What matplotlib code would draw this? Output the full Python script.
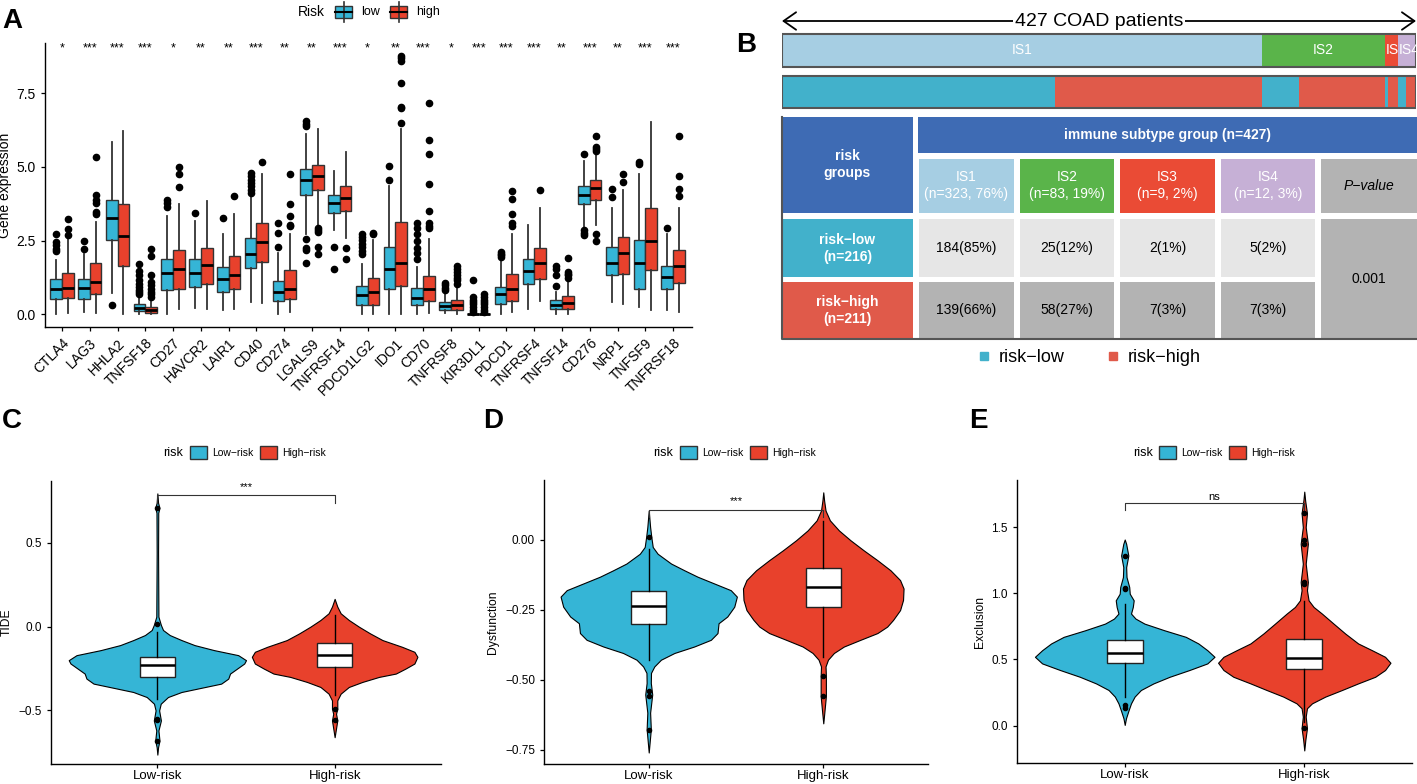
import numpy as np
import matplotlib.pyplot as plt
from matplotlib.patches import Rectangle, Patch
from matplotlib.lines import Line2D

plt.rcParams['font.family'] = ['Liberation Sans', 'DejaVu Sans']

# ---------------- panel A: immune checkpoint genes ----------------
genes = ['CTLA4', 'LAG3', 'HHLA2', 'TNFSF18', 'CD27', 'HAVCR2', 'LAIR1', 'CD40',
         'CD274', 'LGALS9', 'TNFRSF14', 'PDCD1LG2', 'IDO1', 'CD70', 'TNFRSF8',
         'KIR3DL1', 'PDCD1', 'TNFRSF4', 'TNFSF14', 'CD276', 'NRP1', 'TNFSF9', 'TNFRSF18']
signif = ['*', '***', '***', '***', '*', '**', '**', '***', '**', '**', '***', '*',
          '**', '***', '*', '***', '***', '***', '**', '***', '**', '***', '***']

low_q1 = [0.53, 0.53, 2.53, 0.10, 0.84, 0.93, 0.76, 1.58, 0.44, 4.04, 3.42, 0.33,
          0.86, 0.33, 0.16, 0.0, 0.34, 1.02, 0.19, 3.73, 1.35, 0.87, 0.87]
low_med = [0.85, 0.89, 3.27, 0.23, 1.41, 1.40, 1.19, 2.06, 0.76, 4.55, 3.76, 0.64,
           1.52, 0.57, 0.27, 0.0, 0.68, 1.46, 0.31, 4.06, 1.74, 1.75, 1.27]
low_q3 = [1.20, 1.20, 3.89, 0.34, 1.89, 1.89, 1.61, 2.60, 1.13, 4.94, 4.04, 0.96,
          2.29, 0.89, 0.42, 0.02, 0.93, 1.87, 0.48, 4.36, 2.29, 2.53, 1.64]
low_wlo = [0.02, 0.08, 0.72, 0.0, 0.0, 0.23, 0.16, 0.42, 0.0, 2.74, 2.85, 0.0,
           0.02, 0.0, 0.05, 0.0, 0.0, 0.19, 0.02, 2.87, 0.42, 0.25, 0.16]
low_whi = [1.83, 2.06, 5.85, 0.59, 3.33, 3.17, 2.71, 4.07, 2.09, 6.13, 4.85, 1.72,
           4.34, 1.61, 0.70, 0.03, 1.83, 3.02, 0.76, 5.20, 3.59, 4.77, 2.74]
low_out = [[2.74, 2.45, 2.34, 2.23, 2.15], [2.48, 2.23], [0.33],
           [1.70, 1.46, 1.32, 1.15, 1.04, 0.93, 0.84, 0.76, 0.68], [3.89, 3.76, 3.64],
           [3.42], [3.25], [4.80, 4.68, 4.55, 4.46, 4.34, 4.23, 4.12], [3.08, 2.76, 2.29],
           [6.55, 6.47, 6.38, 2.57, 2.26, 2.17, 1.74], [2.28, 1.53],
           [2.74, 2.62, 2.53, 2.40, 2.28, 2.15, 2.06], [5.02, 4.57],
           [3.08, 2.94, 2.71, 2.49, 2.26, 2.09, 1.87], [1.06, 0.98, 0.90, 0.81],
           [1.15, 0.59, 0.50, 0.42, 0.34, 0.25, 0.16, 0.08], [2.12, 2.06, 2.00, 1.95],
           [], [1.64, 1.55, 1.32, 0.96], [5.43, 2.85, 2.76, 2.68], [4.24, 3.98],
           [5.17, 5.09], [2.94]]

high_q1 = [0.55, 0.68, 1.64, 0.05, 0.87, 1.04, 0.85, 1.76, 0.51, 4.23, 3.50, 0.31,
           0.96, 0.45, 0.16, 0.0, 0.44, 1.20, 0.19, 3.89, 1.38, 1.49, 1.06]
high_med = [0.88, 1.09, 2.66, 0.14, 1.52, 1.66, 1.35, 2.44, 0.86, 4.68, 3.96, 0.76,
            1.74, 0.86, 0.33, 0.0, 0.86, 1.74, 0.40, 4.29, 2.08, 2.48, 1.64]
high_q3 = [1.40, 1.75, 3.74, 0.25, 2.17, 2.26, 1.97, 3.10, 1.49, 5.08, 4.34, 1.23,
           3.13, 1.29, 0.50, 0.02, 1.38, 2.26, 0.62, 4.57, 2.62, 3.59, 2.17]
high_wlo = [0.05, 0.05, 0.0, 0.0, 0.19, 0.19, 0.18, 0.38, 0.08, 2.96, 2.60, 0.0,
            0.0, 0.05, 0.02, 0.0, 0.08, 0.45, 0.0, 3.02, 0.36, 0.16, 0.08]
high_whi = [2.62, 3.13, 6.22, 0.53, 3.73, 3.83, 3.39, 4.75, 2.74, 6.30, 5.49, 2.51,
            6.30, 2.57, 0.93, 0.03, 2.74, 3.59, 1.10, 5.48, 4.21, 6.53, 3.62]
high_out = [[3.22, 2.88, 2.68], [5.34, 4.06, 3.89, 3.79, 3.47, 3.39], [],
            [2.23, 1.97, 1.32, 1.10, 0.98, 0.87, 0.76, 0.68, 0.59], [4.98, 4.75, 4.32],
            [], [4.02], [5.17], [4.75, 3.73, 3.34, 3.04, 2.98],
            [2.93, 2.85, 2.79, 2.28, 2.04], [2.26, 1.89], [2.76, 2.71],
            [8.76, 8.68, 8.60, 7.85, 7.04, 6.98, 6.49],
            [7.17, 5.90, 5.43, 4.43, 3.51, 3.10, 2.99, 2.91],
            [1.64, 1.55, 1.44, 1.32, 1.24, 1.15, 1.04],
            [0.68, 0.59, 0.50, 0.42, 0.34, 0.25, 0.16, 0.08],
            [4.17, 3.90, 3.39, 3.08, 2.99], [4.21], [1.91, 1.44, 1.38, 1.32, 1.24],
            [6.04, 5.68, 5.59, 5.53, 2.74, 2.49], [4.77, 4.49], [], [6.05, 4.69, 4.24, 4.00]]

# ---------------- panel B: immune subtypes ----------------
subtypes = ['IS1', 'IS2', 'IS3', 'IS4']
subtype_n = [323, 83, 9, 12]
subtype_pct = [76, 19, 2, 3]
low_n = [184, 25, 2, 5]
low_pct = [85, 12, 1, 2]
high_n = [139, 58, 7, 7]
high_pct = [66, 27, 3, 3]
risk_n = [216, 211]
p_value = '0.001'

# ---------------- panels C-E: TIDE, Dysfunction, Exclusion ----------------
groups = ['Low-risk', 'High-risk']

tide_low_y = [-0.764, -0.72, -0.68, -0.62, -0.56, -0.50, -0.46, -0.42, -0.39, -0.36, -0.34,
              -0.31, -0.28, -0.25, -0.22, -0.20, -0.17, -0.14, -0.11, -0.08, -0.05, -0.02,
              0.01, 0.06, 0.44, 0.68, 0.71, 0.74, 0.796]
tide_low_w = [0, 0.004, 0.012, 0.006, 0.02, 0.01, 0.019, 0.06, 0.136, 0.27, 0.36,
              0.40, 0.41, 0.45, 0.49, 0.50, 0.456, 0.32, 0.21, 0.136, 0.07, 0.032,
              0.02, 0.006, 0.004, 0.005, 0.012, 0.004, 0]
tide_high_y = [-0.66, -0.56, -0.52, -0.49, -0.44, -0.40, -0.36, -0.33, -0.30, -0.28, -0.25,
               -0.22, -0.18, -0.15, -0.12, -0.08, -0.04, 0.0, 0.04, 0.08, 0.12, 0.166]
tide_high_w = [0, 0.015, 0.008, 0.015, 0.015, 0.034, 0.08, 0.156, 0.25, 0.345, 0.40,
               0.45, 0.467, 0.45, 0.38, 0.27, 0.20, 0.137, 0.08, 0.034, 0.015, 0]
tide_box = [[-0.30, -0.23, -0.18, -0.43, -0.03], [-0.24, -0.17, -0.10, -0.41, 0.07]]
tide_out = [[0.71, 0.016, -0.55, -0.56, -0.684], [-0.49, -0.56]]

dys_low_y = [-0.759, -0.676, -0.617, -0.552, -0.511, -0.475, -0.452, -0.428, -0.404, -0.381,
             -0.357, -0.333, -0.298, -0.274, -0.239, -0.203, -0.180, -0.156, -0.132, -0.109,
             -0.085, -0.050, -0.026, 0.009, 0.045, 0.104]
dys_low_w = [0, 0.012, 0.008, 0.02, 0.012, 0.013, 0.032, 0.07, 0.147, 0.26, 0.356, 0.394,
             0.40, 0.45, 0.49, 0.505, 0.47, 0.375, 0.28, 0.204, 0.128, 0.051, 0.023, 0.015,
             0.008, 0]
dys_high_y = [-0.655, -0.617, -0.558, -0.487, -0.452, -0.428, -0.404, -0.381, -0.357, -0.333,
              -0.310, -0.286, -0.251, -0.215, -0.174, -0.144, -0.109, -0.073, -0.038, -0.002,
              0.033, 0.069, 0.104, 0.139, 0.169]
dys_high_w = [0, 0.006, 0.015, 0.015, 0.013, 0.027, 0.061, 0.118, 0.213, 0.31, 0.366, 0.40,
              0.44, 0.457, 0.46, 0.44, 0.385, 0.31, 0.232, 0.156, 0.09, 0.038, 0.013, 0.005, 0]
dys_box = [[-0.30, -0.235, -0.182, -0.428, -0.032], [-0.24, -0.17, -0.10, -0.42, 0.068]]
dys_out = [[0.009, -0.54, -0.556, -0.677], [-0.487, -0.558]]

exc_low_y = [0.005, 0.055, 0.118, 0.168, 0.219, 0.269, 0.319, 0.369, 0.420, 0.470, 0.520,
             0.570, 0.621, 0.671, 0.721, 0.771, 0.809, 0.847, 0.897, 0.947, 0.997, 1.048,
             1.123, 1.198, 1.286, 1.374, 1.407]
exc_low_w = [0, 0.007, 0.022, 0.035, 0.055, 0.09, 0.16, 0.25, 0.36, 0.46, 0.50, 0.46, 0.41,
             0.34, 0.22, 0.11, 0.06, 0.035, 0.045, 0.05, 0.028, 0.025, 0.01, 0.008, 0.02,
             0.008, 0]
exc_high_y = [-0.188, -0.108, -0.020, 0.068, 0.131, 0.168, 0.219, 0.269, 0.319, 0.369, 0.420,
              0.475, 0.520, 0.570, 0.621, 0.696, 0.771, 0.847, 0.897, 0.947, 1.023, 1.085,
              1.224, 1.374, 1.500, 1.606, 1.701, 1.769]
exc_high_w = [0, 0.006, 0.015, 0.008, 0.015, 0.043, 0.117, 0.21, 0.30, 0.395, 0.45, 0.48,
              0.45, 0.377, 0.30, 0.228, 0.163, 0.098, 0.052, 0.024, 0.015, 0.02, 0.008, 0.02,
              0.008, 0.015, 0.005, 0]
exc_box = [[0.47, 0.55, 0.646, 0.214, 0.917], [0.43, 0.508, 0.656, 0.03, 0.94]]
exc_out = [[1.281, 1.04, 1.03, 0.156, 0.131], [1.605, 1.40, 1.37, 1.085, 1.07, -0.02]]

BLUE = '#35b5d6'
RED = '#e8412c'
EDGE = '#333333'

W, H = 1417, 784
fig = plt.figure(figsize=(W / 100, H / 100), dpi=100)


def px_axes(l, t, r, b):
    return fig.add_axes([l / W, 1 - b / H, (r - l) / W, (b - t) / H])


def classic(ax):
    for s in ['top', 'right']:
        ax.spines[s].set_visible(False)
    for s in ['left', 'bottom']:
        ax.spines[s].set_linewidth(1.0)
    ax.tick_params(length=3, width=0.9, color='black')


# ---------------- A ----------------
axA = px_axes(45, 43, 692, 327)
pos = np.arange(1, len(genes) + 1)
low_stats = [dict(q1=a, med=b, q3=c, whislo=d, whishi=e, fliers=f) for a, b, c, d, e, f in
             zip(low_q1, low_med, low_q3, low_wlo, low_whi, low_out)]
high_stats = [dict(q1=a, med=b, q3=c, whislo=d, whishi=e, fliers=f) for a, b, c, d, e, f in
              zip(high_q1, high_med, high_q3, high_wlo, high_whi, high_out)]
for st, off, col in [(low_stats, -0.21, BLUE), (high_stats, 0.21, RED)]:
    axA.bxp(st, positions=pos + off, widths=0.42, patch_artist=True, showcaps=False,
            manage_ticks=False,
            boxprops=dict(facecolor=col, edgecolor=EDGE, linewidth=1.0),
            whiskerprops=dict(color=EDGE, linewidth=1.3),
            medianprops=dict(color='black', linewidth=2.0),
            flierprops=dict(marker='o', markerfacecolor='black', markeredgecolor='black',
                            markersize=4.5))
for p, s in zip(pos, signif):
    axA.text(p, 9.02, s, ha='center', va='center', fontsize=9)
axA.set_xlim(0.39, 23.68)
axA.set_ylim(-0.43, 9.2)
axA.set_yticks([0, 2.5, 5, 7.5], ['0.0', '2.5', '5.0', '7.5'], fontsize=10)
axA.set_xticks(pos, genes, rotation=45, ha='right', rotation_mode='anchor', fontsize=10)
axA.set_ylabel('Gene expression', fontsize=10, labelpad=3)
classic(axA)

# ---------------- B: bars ----------------
axBar = px_axes(782, 0, 1416, 112)
axBar.set_xlim(0, 427)
axBar.set_ylim(112, 0)
axBar.axis('off')
cum = np.concatenate([[0], np.cumsum(subtype_n)[:-1]])
is_colors = ['#a6cee3', '#5ab44a', '#ea4b35', '#c6b0d6']
segs = axBar.barh(50.3, subtype_n, left=cum, height=32.7, color=is_colors, linewidth=0)
for seg, name, c, n in zip(segs, subtypes, cum, subtype_n):
    # narrow segments: label starts at the segment edge and is cut by it
    if n > 40:
        t = axBar.text(c + n / 2, 50.3, name, ha='center', va='center', color='white',
                       fontsize=10, clip_on=True)
    else:
        t = axBar.text(c + 0.3, 50.3, name, ha='left', va='center', color='white',
                       fontsize=10, clip_on=True)
    t.set_clip_path(seg)
axBar.barh(50.3, sum(subtype_n), left=0, height=32.7, fill=False, edgecolor='#555555', linewidth=1.5)

risk_counts = [v for pair in zip(low_n, high_n) for v in pair]
risk_cols = ['#42b1cb', '#e05a4a'] * len(subtypes)
risk_left = np.concatenate([[0], np.cumsum(risk_counts)[:-1]])
axBar.barh(92, risk_counts, left=risk_left, height=32, color=risk_cols, linewidth=0)
axBar.barh(92, sum(risk_counts), left=0, height=32, fill=False, edgecolor='#555555', linewidth=1.5)

axBar.annotate('', xy=(0, 21), xytext=(sum(subtype_n), 21),
               arrowprops=dict(arrowstyle='<->, head_length=0.5, head_width=0.35',
                               mutation_scale=18, lw=1.3, color='black',
                               shrinkA=0, shrinkB=0))
axBar.text(sum(subtype_n) / 2, 21, f'{sum(subtype_n)} COAD patients', ha='center', va='center',
           fontsize=14, bbox=dict(facecolor='white', edgecolor='none', pad=1))

# ---------------- B: table ----------------
axT = px_axes(760, 112, 1417, 380)
axT.set_xlim(760, 1417)
axT.set_ylim(380, 112)
axT.axis('off')
BLUE_H = '#3e6bb4'
col_x = [919 + i * 100.6 for i in range(5)]
col_w = [94.5] * 4 + [1417 - col_x[4]]
rows_top = [159, 219, 281.7]
rows_h = [53.7, 58.3, 57.6]


def cell(x, y, w, h, color, text='', tcolor='black', **kw):
    axT.add_patch(Rectangle((x, y), w, h, facecolor=color, edgecolor='none'))
    if text:
        axT.text(x + w / 2, y + h / 2, text, ha='center', va='center', color=tcolor,
                 fontsize=10, linespacing=1.3, **kw)


cell(782, 116.7, 131, 96, BLUE_H, 'risk\ngroups', 'white', fontweight='bold')
cell(918, 116.7, 1417 - 918, 36, BLUE_H, f'immune subtype group (n={sum(subtype_n)})', 'white',
     fontweight='bold')
for i in range(4):
    cell(col_x[i], rows_top[0], col_w[i], rows_h[0], is_colors[i],
         f'{subtypes[i]}\n(n={subtype_n[i]}, {subtype_pct[i]}%)', 'white')
    cell(col_x[i], rows_top[1], col_w[i], rows_h[1], '#e6e6e6', f'{low_n[i]}({low_pct[i]}%)')
    cell(col_x[i], rows_top[2], col_w[i], rows_h[2], '#b3b3b3', f'{high_n[i]}({high_pct[i]}%)')
cell(col_x[4], rows_top[0], col_w[4], rows_h[0], '#b3b3b3', 'P\u2212value', style='italic')
cell(col_x[4], rows_top[1], col_w[4], rows_top[2] + rows_h[2] - rows_top[1], '#b3b3b3', p_value)
cell(782, rows_top[1], 131, rows_h[1], '#42b1cb', f'risk\u2212low\n(n={risk_n[0]})', 'white',
     fontweight='bold')
cell(782, rows_top[2], 131, rows_h[2], '#e05a4a', f'risk\u2212high\n(n={risk_n[1]})', 'white',
     fontweight='bold')
axT.plot([782, 782, 1417], [116.7, 339.3, 339.3], color='#555555', lw=1.5)
axT.legend(handles=[Line2D([], [], ls='none', marker='s', ms=5.5, color='#42b1cb', label='risk\u2212low'),
                    Line2D([], [], ls='none', marker='s', ms=5.5, color='#e05a4a', label='risk\u2212high')],
           ncol=2, frameon=False, loc='center', bbox_to_anchor=(1088, 357.7),
           bbox_transform=axT.transData, fontsize=13, handletextpad=0.3, columnspacing=2.2,
           handlelength=1.0, borderpad=0)

# ---------------- C, D, E ----------------
panels = [
    (px_axes(51, 481, 441, 764), [(tide_low_y, tide_low_w), (tide_high_y, tide_high_w)], tide_box,
     tide_out, 'TIDE', [-0.5, 0.0, 0.5], ['\u22120.5', '0.0', '0.5'], (-0.82, 0.87),
     '***', 0.784, 0.74, 0.834, (163, 190)),
    (px_axes(544, 480, 928, 764), [(dys_low_y, dys_low_w), (dys_high_y, dys_high_w)], dys_box,
     dys_out, 'Dysfunction', [-0.75, -0.5, -0.25, 0.0], ['\u22120.75', '\u22120.50', '\u22120.25', '0.00'],
     (-0.80, 0.213), '***', 0.106, 0.08, 0.139, (653, 680)),
    (px_axes(1017, 480, 1412, 763), [(exc_low_y, exc_low_w), (exc_high_y, exc_high_w)], exc_box,
     exc_out, 'Exclusion', [0.0, 0.5, 1.0, 1.5], ['0.0', '0.5', '1.0', '1.5'], (-0.283, 1.857),
     'ns', 1.684, 1.63, 1.73, (1133, 1159)),
]
for ax, prof, box, outl, ylab, yt, ytl, ylim, stxt, sy, slo, sty, (lx_title, lx_leg) in panels:
    for i, ((vy, vw), col) in enumerate(zip(prof, [BLUE, RED])):
        vw = np.array(vw)
        ax.fill_betweenx(vy, i + 1 - vw, i + 1 + vw, facecolor=col, edgecolor='black',
                         linewidth=0.8, zorder=1)
    st = [dict(q1=b[0], med=b[1], q3=b[2], whislo=b[3], whishi=b[4], fliers=f)
          for b, f in zip(box, outl)]
    ax.bxp(st, positions=[1, 2], widths=0.2, patch_artist=True, showcaps=False,
           manage_ticks=False, zorder=3,
           boxprops=dict(facecolor='white', edgecolor='#222222', linewidth=1.0),
           whiskerprops=dict(color='black', linewidth=1.0),
           medianprops=dict(color='black', linewidth=1.8),
           flierprops=dict(marker='o', markerfacecolor='black', markeredgecolor='black',
                           markersize=3))
    ax.plot([1, 1, 2, 2], [slo, sy, sy, slo], color='#333333', lw=0.8)
    ax.text(1.5, sty, stxt, ha='center', va='center', fontsize=8)
    ax.set_xlim(0.4, 2.6)
    ax.set_ylim(*ylim)
    ax.set_xticks([1, 2], groups, fontsize=9.5)
    ax.set_yticks(yt, ytl, fontsize=8.5)
    ax.set_ylabel(ylab, fontsize=8.7)
    classic(ax)
    ax.tick_params(axis='x', pad=1.5)
    fig.text(lx_title / W, 1 - 452.5 / H, 'risk', ha='left', va='center', fontsize=9)
    fig.legend(handles=[Patch(facecolor=BLUE, edgecolor=EDGE, linewidth=1, label='Low\u2212risk'),
                        Patch(facecolor=RED, edgecolor=EDGE, linewidth=1, label='High\u2212risk')],
               ncol=2, frameon=False, loc='center left',
               bbox_to_anchor=(lx_leg / W, 1 - 452.5 / H), fontsize=7.5,
               handlelength=1.6, handleheight=1.6, handletextpad=0.5, columnspacing=0.7,
               borderpad=0, borderaxespad=0)

# ---------------- overlay: panel A legend and panel letters ----------------
ov = fig.add_axes([0, 0, 1, 1])
ov.set_xlim(0, W)
ov.set_ylim(H, 0)
ov.axis('off')
ov.text(298, 12, 'Risk', ha='left', va='center', fontsize=10)
for x0, col, lab in [(335, BLUE, 'low'), (390, RED, 'high')]:
    ov.plot([x0 + 8.5, x0 + 8.5], [1.5, 21.5], color=EDGE, lw=1.2)
    ov.add_patch(Rectangle((x0, 5.5), 17, 12.5, facecolor=col, edgecolor=EDGE, lw=1))
    ov.plot([x0, x0 + 17], [11.7, 11.7], color='black', lw=1.5)
    ov.text(x0 + 26, 12, lab, ha='left', va='center', fontsize=9)
for letter, x, y in [('A', 2, 28), ('B', 736, 52), ('C', 2, 428), ('D', 483, 428), ('E', 969, 428)]:
    ov.text(x, y, letter, ha='left', va='baseline', fontsize=20, fontweight='bold')

fig.savefig('out.png', dpi=100)
